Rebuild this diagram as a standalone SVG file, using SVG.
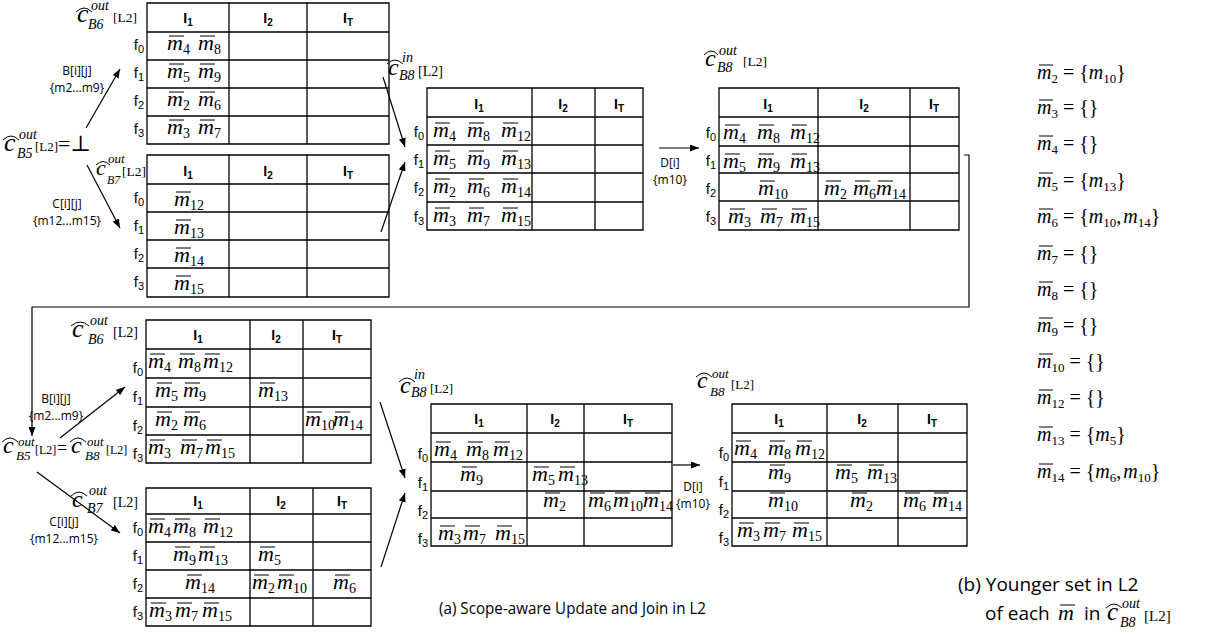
<svg xmlns="http://www.w3.org/2000/svg" width="1229" height="634" viewBox="0 0 1229 634">
<style>
.g{fill:none;stroke:#000;stroke-width:1.3}
.ov{fill:none;stroke:#000;stroke-width:1}
.hat{fill:none;stroke:#000;stroke-width:1}
.m{font-family:"Liberation Serif",serif;font-style:italic;font-size:22px}
.s{font-style:normal;font-size:14px}
.f{font-family:"Liberation Sans",Arial,sans-serif;font-size:15px;text-anchor:end}
.fs{font-size:11px}
.h{font-family:"Liberation Sans",Arial,sans-serif;font-weight:bold;font-size:14px;text-anchor:middle}
.hs{font-size:10px}
.lb{font-family:"Open Sans",sans-serif;font-size:12px;text-anchor:middle}
.cc{font-family:"Liberation Serif","DejaVu Serif",serif}
.ci{font-style:italic}
.cap{font-family:"Open Sans",sans-serif;font-size:16.5px}
.capb{font-family:"Open Sans",sans-serif;font-size:19px}
.cn{fill:none;stroke:#000;stroke-width:1.2}
.eq{font-family:"Liberation Serif",serif;font-size:20px}
.i{font-style:italic}
.es{font-size:13px}
</style>
<defs>
<marker id="ah" markerWidth="9" markerHeight="7" refX="9" refY="3.5" orient="auto" markerUnits="userSpaceOnUse"><path d="M0,0 L9,3.5 L0,7 z" fill="#000"/></marker>
</defs>

<g id="connectors" class="cn">
<path d="M86 128L120 69" marker-end="url(#ah)"/>
<path d="M87 165L120 228" marker-end="url(#ah)"/>
<path d="M383 77L405 147" marker-end="url(#ah)"/>
<path d="M381 232L405 162" marker-end="url(#ah)"/>
<path d="M659 148H699" marker-end="url(#ah)"/>
<path d="M964 155H969V307H32V436" marker-end="url(#ah)"/>
<path d="M60 438L125 387" marker-end="url(#ah)"/>
<path d="M37 472L120 533" marker-end="url(#ah)"/>
<path d="M380 402L405 478" marker-end="url(#ah)"/>
<path d="M381 567L405 493" marker-end="url(#ah)"/>
<path d="M673 465H700" marker-end="url(#ah)"/>
</g>

<g id="edge-labels">
<text class="lb" x="77" y="75">B[i][j]</text>
<text class="lb" x="77" y="92">{m2...m9}</text>
<text class="lb" x="67" y="208">C[i][j]</text>
<text class="lb" x="67" y="225">{m12...m15}</text>
<text class="lb" x="670" y="167">D[i]</text>
<text class="lb" x="670" y="184">{m10}</text>
<text class="lb" x="56" y="403">B[i][j]</text>
<text class="lb" x="56" y="420">{m2...m9}</text>
<text class="lb" x="64" y="526">C[i][j]</text>
<text class="lb" x="64" y="543">{m12...m15}</text>
<text class="lb" x="693" y="491">D[i]</text>
<text class="lb" x="693" y="508">{m10}</text>
</g>

<g id="node-b5-top">
<path class="hat" d="M3 140Q11 132 19 140"/>
<text class="cc"><tspan class="ci" x="4" y="151" font-size="26">c</tspan><tspan class="ci" x="19" y="139" font-size="14">out</tspan><tspan class="ci" x="17" y="158" font-size="14">B5</tspan><tspan x="35" y="151" font-size="13">[L2]</tspan><tspan x="58" y="151" font-size="22">=⊥</tspan></text>
</g>

<g id="table-b6-top">
<path class="hat" d="M76 12Q84 4 92 12"/>
<text class="cc"><tspan class="ci" x="77" y="22" font-size="26">c</tspan><tspan class="ci" x="91" y="10" font-size="14">out</tspan><tspan class="ci" x="88" y="29" font-size="14">B6</tspan><tspan x="113" y="22" font-size="13.5">[L2]</tspan></text>
<path class="g" d="M147 3h242v141h-242zM147 32h242M147 60h242M147 88h242M147 116h242M229 3v141M307 3v141"/>
<text class="h" x="188" y="23">I<tspan class="hs" dy="3">1</tspan></text>
<text class="h" x="268" y="23">I<tspan class="hs" dy="3">2</tspan></text>
<text class="h" x="348" y="23">I<tspan class="hs" dy="3">T</tspan></text>
<text class="f" x="144" y="50">f<tspan class="fs" dy="3">0</tspan></text>
<text class="f" x="144" y="78">f<tspan class="fs" dy="3">1</tspan></text>
<text class="f" x="144" y="106">f<tspan class="fs" dy="3">2</tspan></text>
<text class="f" x="144" y="134">f<tspan class="fs" dy="3">3</tspan></text>
<text class="m"><tspan x="167" y="50">m</tspan><tspan class="s" dy="4">4</tspan><tspan x="198" y="50">m</tspan><tspan class="s" dy="4">8</tspan><tspan x="167" y="78">m</tspan><tspan class="s" dy="4">5</tspan><tspan x="198" y="78">m</tspan><tspan class="s" dy="4">9</tspan><tspan x="167" y="106">m</tspan><tspan class="s" dy="4">2</tspan><tspan x="198" y="106">m</tspan><tspan class="s" dy="4">6</tspan><tspan x="167" y="134">m</tspan><tspan class="s" dy="4">3</tspan><tspan x="198" y="134">m</tspan><tspan class="s" dy="4">7</tspan></text>
<path class="ov" d="M169 36h15M200 36h15M169 64h15M200 64h15M169 92h15M200 92h15M169 120h15M200 120h15"/>
</g>

<g id="table-b7-top">
<path class="hat" d="M96 165Q103 158 110 165"/>
<text class="cc"><tspan class="ci" x="96" y="175" font-size="22">c</tspan><tspan class="ci" x="108" y="163" font-size="13">out</tspan><tspan class="ci" x="107" y="184" font-size="12">B7</tspan><tspan x="122" y="176" font-size="13.5">[L2]</tspan></text>
<path class="g" d="M147 155h242v142h-242zM147 184h242M147 212h242M147 240h242M147 268h242M229 155v142M307 155v142"/>
<text class="h" x="188" y="176">I<tspan class="hs" dy="3">1</tspan></text>
<text class="h" x="268" y="176">I<tspan class="hs" dy="3">2</tspan></text>
<text class="h" x="348" y="176">I<tspan class="hs" dy="3">T</tspan></text>
<text class="f" x="144" y="203">f<tspan class="fs" dy="3">0</tspan></text>
<text class="f" x="144" y="231">f<tspan class="fs" dy="3">1</tspan></text>
<text class="f" x="144" y="259">f<tspan class="fs" dy="3">2</tspan></text>
<text class="f" x="144" y="287">f<tspan class="fs" dy="3">3</tspan></text>
<text class="m"><tspan x="174" y="206">m</tspan><tspan class="s" dy="4">12</tspan><tspan x="174" y="234">m</tspan><tspan class="s" dy="4">13</tspan><tspan x="174" y="262">m</tspan><tspan class="s" dy="4">14</tspan><tspan x="174" y="290">m</tspan><tspan class="s" dy="4">15</tspan></text>
<path class="ov" d="M176 192h15M176 220h15M176 248h15M176 276h15"/>
</g>

<g id="table-b8in-top">
<path class="hat" d="M387 64Q395 56 403 64"/>
<text class="cc"><tspan class="ci" x="388" y="75" font-size="24">c</tspan><tspan class="ci" x="402" y="62" font-size="14">in</tspan><tspan class="ci" x="399" y="80" font-size="14">B8</tspan><tspan x="418" y="76" font-size="14">[L2]</tspan></text>
<path class="g" d="M427 88h216v142h-216zM427 117h216M427 145h216M427 173h216M427 202h216M532 88v142M595 88v142"/>
<text class="h" x="479" y="109">I<tspan class="hs" dy="3">1</tspan></text>
<text class="h" x="563" y="109">I<tspan class="hs" dy="3">2</tspan></text>
<text class="h" x="619" y="109">I<tspan class="hs" dy="3">T</tspan></text>
<text class="f" x="424" y="137">f<tspan class="fs" dy="3">0</tspan></text>
<text class="f" x="424" y="165">f<tspan class="fs" dy="3">1</tspan></text>
<text class="f" x="424" y="193">f<tspan class="fs" dy="3">2</tspan></text>
<text class="f" x="424" y="222">f<tspan class="fs" dy="3">3</tspan></text>
<text class="m"><tspan x="433" y="137">m</tspan><tspan class="s" dy="4">4</tspan><tspan x="467" y="137">m</tspan><tspan class="s" dy="4">8</tspan><tspan x="501" y="137">m</tspan><tspan class="s" dy="4">12</tspan><tspan x="433" y="165">m</tspan><tspan class="s" dy="4">5</tspan><tspan x="467" y="165">m</tspan><tspan class="s" dy="4">9</tspan><tspan x="501" y="165">m</tspan><tspan class="s" dy="4">13</tspan><tspan x="433" y="193">m</tspan><tspan class="s" dy="4">2</tspan><tspan x="467" y="193">m</tspan><tspan class="s" dy="4">6</tspan><tspan x="501" y="193">m</tspan><tspan class="s" dy="4">14</tspan><tspan x="433" y="222">m</tspan><tspan class="s" dy="4">3</tspan><tspan x="467" y="222">m</tspan><tspan class="s" dy="4">7</tspan><tspan x="501" y="222">m</tspan><tspan class="s" dy="4">15</tspan></text>
<path class="ov" d="M435 123h15M469 123h15M503 123h15M435 151h15M469 151h15M503 151h15M435 179h15M469 179h15M503 179h15M435 208h15M469 208h15M503 208h15"/>
</g>

<g id="table-b8out-top">
<path class="hat" d="M704 55Q711 47 718 55"/>
<text class="cc"><tspan class="ci" x="705" y="66" font-size="24">c</tspan><tspan class="ci" x="719" y="55" font-size="14">out</tspan><tspan class="ci" x="717" y="72" font-size="14">B8</tspan><tspan x="743" y="66" font-size="13.5">[L2]</tspan></text>
<path class="g" d="M719 88h240v142h-240zM719 117h240M719 146h240M719 173h240M719 201h240M818 88v142M910 88v142"/>
<text class="h" x="768" y="109">I<tspan class="hs" dy="3">1</tspan></text>
<text class="h" x="864" y="109">I<tspan class="hs" dy="3">2</tspan></text>
<text class="h" x="934" y="109">I<tspan class="hs" dy="3">T</tspan></text>
<text class="f" x="716" y="138">f<tspan class="fs" dy="3">0</tspan></text>
<text class="f" x="716" y="166">f<tspan class="fs" dy="3">1</tspan></text>
<text class="f" x="716" y="194">f<tspan class="fs" dy="3">2</tspan></text>
<text class="f" x="716" y="222">f<tspan class="fs" dy="3">3</tspan></text>
<text class="m"><tspan x="723" y="139">m</tspan><tspan class="s" dy="4">4</tspan><tspan x="757" y="139">m</tspan><tspan class="s" dy="4">8</tspan><tspan x="790" y="139">m</tspan><tspan class="s" dy="4">12</tspan><tspan x="723" y="168">m</tspan><tspan class="s" dy="4">5</tspan><tspan x="757" y="168">m</tspan><tspan class="s" dy="4">9</tspan><tspan x="790" y="168">m</tspan><tspan class="s" dy="4">13</tspan><tspan x="758" y="195">m</tspan><tspan class="s" dy="4">10</tspan><tspan x="824" y="195">m</tspan><tspan class="s" dy="4">2</tspan><tspan x="853" y="195">m</tspan><tspan class="s" dy="4">6</tspan><tspan x="876" y="195">m</tspan><tspan class="s" dy="4">14</tspan><tspan x="728" y="223">m</tspan><tspan class="s" dy="4">3</tspan><tspan x="760" y="223">m</tspan><tspan class="s" dy="4">7</tspan><tspan x="790" y="223">m</tspan><tspan class="s" dy="4">15</tspan></text>
<path class="ov" d="M725 125h15M759 125h15M792 125h15M725 154h15M759 154h15M792 154h15M760 181h15M826 181h15M855 181h15M878 181h15M730 209h15M762 209h15M792 209h15"/>
</g>

<g id="node-b5-bottom">
<path class="hat" d="M2 442Q10 434 18 442M70 442Q78 434 86 442"/>
<text class="cc"><tspan class="ci" x="3" y="453" font-size="24">c</tspan><tspan class="ci" x="18" y="446" font-size="13">out</tspan><tspan class="ci" x="16" y="460" font-size="13">B5</tspan><tspan x="35" y="454" font-size="12">[L2]</tspan><tspan x="57" y="454" font-size="18">=</tspan><tspan class="ci" x="71" y="453" font-size="24">c</tspan><tspan class="ci" x="87" y="446" font-size="13">out</tspan><tspan class="ci" x="85" y="460" font-size="13">B8</tspan><tspan x="106" y="454" font-size="12">[L2]</tspan></text>
</g>

<g id="table-b6-bottom">
<path class="hat" d="M71 326Q80 318 89 326"/>
<text class="cc"><tspan class="ci" x="72" y="337" font-size="26">c</tspan><tspan class="ci" x="90" y="325" font-size="14">out</tspan><tspan class="ci" x="88" y="344" font-size="14">B6</tspan><tspan x="113" y="337" font-size="14">[L2]</tspan></text>
<path class="g" d="M146 320h225v143h-225zM146 349h225M146 378h225M146 407h225M146 435h225M250 320v143M303 320v143"/>
<text class="h" x="198" y="340">I<tspan class="hs" dy="3">1</tspan></text>
<text class="h" x="276" y="340">I<tspan class="hs" dy="3">2</tspan></text>
<text class="h" x="337" y="340">I<tspan class="hs" dy="3">T</tspan></text>
<text class="f" x="143" y="373">f<tspan class="fs" dy="3">0</tspan></text>
<text class="f" x="143" y="402">f<tspan class="fs" dy="3">1</tspan></text>
<text class="f" x="143" y="431">f<tspan class="fs" dy="3">2</tspan></text>
<text class="f" x="143" y="459">f<tspan class="fs" dy="3">3</tspan></text>
<text class="m"><tspan x="148" y="368">m</tspan><tspan class="s" dy="4">4</tspan><tspan x="178" y="368">m</tspan><tspan class="s" dy="4">8</tspan><tspan x="203" y="368">m</tspan><tspan class="s" dy="4">12</tspan><tspan x="155" y="397">m</tspan><tspan class="s" dy="4">5</tspan><tspan x="183" y="397">m</tspan><tspan class="s" dy="4">9</tspan><tspan x="258" y="397">m</tspan><tspan class="s" dy="4">13</tspan><tspan x="155" y="426">m</tspan><tspan class="s" dy="4">2</tspan><tspan x="183" y="426">m</tspan><tspan class="s" dy="4">6</tspan><tspan x="305" y="426">m</tspan><tspan class="s" dy="4">10</tspan><tspan x="333" y="426">m</tspan><tspan class="s" dy="4">14</tspan><tspan x="148" y="454">m</tspan><tspan class="s" dy="4">3</tspan><tspan x="180" y="454">m</tspan><tspan class="s" dy="4">7</tspan><tspan x="205" y="454">m</tspan><tspan class="s" dy="4">15</tspan></text>
<path class="ov" d="M150 354h15M180 354h15M205 354h15M157 383h15M185 383h15M260 383h15M157 412h15M185 412h15M307 412h15M335 412h15M150 440h15M182 440h15M207 440h15"/>
</g>

<g id="table-b7-bottom">
<path class="hat" d="M71 496Q79 488 87 496"/>
<text class="cc"><tspan class="ci" x="72" y="507" font-size="24">c</tspan><tspan class="ci" x="89" y="495" font-size="14">out</tspan><tspan class="ci" x="87" y="513" font-size="14">B7</tspan><tspan x="113" y="507" font-size="14">[L2]</tspan></text>
<path class="g" d="M146 488h225v138h-225zM146 514h225M146 542h225M146 570h225M146 598h225M250 488v138M313 488v138"/>
<text class="h" x="198" y="506">I<tspan class="hs" dy="3">1</tspan></text>
<text class="h" x="281" y="506">I<tspan class="hs" dy="3">2</tspan></text>
<text class="h" x="342" y="506">I<tspan class="hs" dy="3">T</tspan></text>
<text class="f" x="143" y="533">f<tspan class="fs" dy="3">0</tspan></text>
<text class="f" x="143" y="561">f<tspan class="fs" dy="3">1</tspan></text>
<text class="f" x="143" y="589">f<tspan class="fs" dy="3">2</tspan></text>
<text class="f" x="143" y="617">f<tspan class="fs" dy="3">3</tspan></text>
<text class="m"><tspan x="148" y="533">m</tspan><tspan class="s" dy="4">4</tspan><tspan x="173" y="533">m</tspan><tspan class="s" dy="4">8</tspan><tspan x="203" y="533">m</tspan><tspan class="s" dy="4">12</tspan><tspan x="173" y="561">m</tspan><tspan class="s" dy="4">9</tspan><tspan x="198" y="561">m</tspan><tspan class="s" dy="4">13</tspan><tspan x="258" y="561">m</tspan><tspan class="s" dy="4">5</tspan><tspan x="185" y="589">m</tspan><tspan class="s" dy="4">14</tspan><tspan x="252" y="589">m</tspan><tspan class="s" dy="4">2</tspan><tspan x="277" y="589">m</tspan><tspan class="s" dy="4">10</tspan><tspan x="333" y="589">m</tspan><tspan class="s" dy="4">6</tspan><tspan x="149" y="617">m</tspan><tspan class="s" dy="4">3</tspan><tspan x="175" y="617">m</tspan><tspan class="s" dy="4">7</tspan><tspan x="202" y="617">m</tspan><tspan class="s" dy="4">15</tspan></text>
<path class="ov" d="M150 519h15M175 519h15M205 519h15M175 547h15M200 547h15M260 547h15M187 575h15M254 575h15M279 575h15M335 575h15M151 603h15M177 603h15M204 603h15"/>
</g>

<g id="table-b8in-bottom">
<path class="hat" d="M399 382Q407 374 415 382"/>
<text class="cc"><tspan class="ci" x="400" y="393" font-size="24">c</tspan><tspan class="ci" x="414" y="379" font-size="14">in</tspan><tspan class="ci" x="411" y="397" font-size="14">B8</tspan><tspan x="430" y="393" font-size="13">[L2]</tspan></text>
<path class="g" d="M431 404h241v142h-241zM431 433h241M431 462h241M431 491h241M431 518h241M527 404v142M584 404v142"/>
<text class="h" x="479" y="424">I<tspan class="hs" dy="3">1</tspan></text>
<text class="h" x="555" y="424">I<tspan class="hs" dy="3">2</tspan></text>
<text class="h" x="628" y="424">I<tspan class="hs" dy="3">T</tspan></text>
<text class="f" x="428" y="459">f<tspan class="fs" dy="3">0</tspan></text>
<text class="f" x="428" y="488">f<tspan class="fs" dy="3">1</tspan></text>
<text class="f" x="428" y="516">f<tspan class="fs" dy="3">2</tspan></text>
<text class="f" x="428" y="544">f<tspan class="fs" dy="3">3</tspan></text>
<text class="m"><tspan x="434" y="456">m</tspan><tspan class="s" dy="4">4</tspan><tspan x="466" y="456">m</tspan><tspan class="s" dy="4">8</tspan><tspan x="493" y="456">m</tspan><tspan class="s" dy="4">12</tspan><tspan x="460" y="481">m</tspan><tspan class="s" dy="4">9</tspan><tspan x="532" y="481">m</tspan><tspan class="s" dy="4">5</tspan><tspan x="558" y="481">m</tspan><tspan class="s" dy="4">13</tspan><tspan x="543" y="507">m</tspan><tspan class="s" dy="4">2</tspan><tspan x="588" y="507">m</tspan><tspan class="s" dy="4">6</tspan><tspan x="613" y="507">m</tspan><tspan class="s" dy="4">10</tspan><tspan x="643" y="507">m</tspan><tspan class="s" dy="4">14</tspan><tspan x="438" y="540">m</tspan><tspan class="s" dy="4">3</tspan><tspan x="463" y="540">m</tspan><tspan class="s" dy="4">7</tspan><tspan x="495" y="540">m</tspan><tspan class="s" dy="4">15</tspan></text>
<path class="ov" d="M436 442h15M468 442h15M495 442h15M462 467h15M534 467h15M560 467h15M545 493h15M590 493h15M615 493h15M645 493h15M440 526h15M465 526h15M497 526h15"/>
</g>

<g id="table-b8out-bottom">
<path class="hat" d="M696 377Q704 369 712 377"/>
<text class="cc"><tspan class="ci" x="697" y="388" font-size="24">c</tspan><tspan class="ci" x="712" y="378" font-size="13">out</tspan><tspan class="ci" x="710" y="396" font-size="13">B8</tspan><tspan x="731" y="389" font-size="13">[L2]</tspan></text>
<path class="g" d="M732 404h235v142h-235zM732 433h235M732 462h235M732 491h235M732 518h235M827 404v142M898 404v142"/>
<text class="h" x="779" y="424">I<tspan class="hs" dy="3">1</tspan></text>
<text class="h" x="862" y="424">I<tspan class="hs" dy="3">2</tspan></text>
<text class="h" x="932" y="424">I<tspan class="hs" dy="3">T</tspan></text>
<text class="f" x="729" y="458">f<tspan class="fs" dy="3">0</tspan></text>
<text class="f" x="729" y="487">f<tspan class="fs" dy="3">1</tspan></text>
<text class="f" x="729" y="515">f<tspan class="fs" dy="3">2</tspan></text>
<text class="f" x="729" y="543">f<tspan class="fs" dy="3">3</tspan></text>
<text class="m"><tspan x="734" y="455">m</tspan><tspan class="s" dy="4">4</tspan><tspan x="768" y="455">m</tspan><tspan class="s" dy="4">8</tspan><tspan x="795" y="455">m</tspan><tspan class="s" dy="4">12</tspan><tspan x="768" y="479">m</tspan><tspan class="s" dy="4">9</tspan><tspan x="835" y="479">m</tspan><tspan class="s" dy="4">5</tspan><tspan x="867" y="479">m</tspan><tspan class="s" dy="4">13</tspan><tspan x="768" y="507">m</tspan><tspan class="s" dy="4">10</tspan><tspan x="850" y="507">m</tspan><tspan class="s" dy="4">2</tspan><tspan x="903" y="507">m</tspan><tspan class="s" dy="4">6</tspan><tspan x="932" y="507">m</tspan><tspan class="s" dy="4">14</tspan><tspan x="737" y="537">m</tspan><tspan class="s" dy="4">3</tspan><tspan x="763" y="537">m</tspan><tspan class="s" dy="4">7</tspan><tspan x="792" y="537">m</tspan><tspan class="s" dy="4">15</tspan></text>
<path class="ov" d="M736 441h15M770 441h15M797 441h15M770 465h15M837 465h15M869 465h15M770 493h15M852 493h15M905 493h15M934 493h15M739 523h15M765 523h15M794 523h15"/>
</g>

<g id="younger-sets">
<text class="eq" x="1037" y="79"><tspan class="i">m</tspan><tspan class="es" dy="4">2</tspan><tspan dy="-4"> = {</tspan><tspan class="i">m</tspan><tspan class="es" dy="4">10</tspan><tspan dy="-4">}</tspan></text>
<text class="eq" x="1037" y="114"><tspan class="i">m</tspan><tspan class="es" dy="4">3</tspan><tspan dy="-4"> = {}</tspan></text>
<text class="eq" x="1037" y="150"><tspan class="i">m</tspan><tspan class="es" dy="4">4</tspan><tspan dy="-4"> = {}</tspan></text>
<text class="eq" x="1037" y="187"><tspan class="i">m</tspan><tspan class="es" dy="4">5</tspan><tspan dy="-4"> = {</tspan><tspan class="i">m</tspan><tspan class="es" dy="4">13</tspan><tspan dy="-4">}</tspan></text>
<text class="eq" x="1037" y="223"><tspan class="i">m</tspan><tspan class="es" dy="4">6</tspan><tspan dy="-4"> = {</tspan><tspan class="i">m</tspan><tspan class="es" dy="4">10</tspan><tspan dy="-4">,</tspan><tspan class="i" dx="2">m</tspan><tspan class="es" dy="4">14</tspan><tspan dy="-4">}</tspan></text>
<text class="eq" x="1037" y="260"><tspan class="i">m</tspan><tspan class="es" dy="4">7</tspan><tspan dy="-4"> = {}</tspan></text>
<text class="eq" x="1037" y="296"><tspan class="i">m</tspan><tspan class="es" dy="4">8</tspan><tspan dy="-4"> = {}</tspan></text>
<text class="eq" x="1037" y="332"><tspan class="i">m</tspan><tspan class="es" dy="4">9</tspan><tspan dy="-4"> = {}</tspan></text>
<text class="eq" x="1037" y="368"><tspan class="i">m</tspan><tspan class="es" dy="4">10</tspan><tspan dy="-4"> = {}</tspan></text>
<text class="eq" x="1037" y="404"><tspan class="i">m</tspan><tspan class="es" dy="4">12</tspan><tspan dy="-4"> = {}</tspan></text>
<text class="eq" x="1037" y="441"><tspan class="i">m</tspan><tspan class="es" dy="4">13</tspan><tspan dy="-4"> = {</tspan><tspan class="i">m</tspan><tspan class="es" dy="4">5</tspan><tspan dy="-4">}</tspan></text>
<text class="eq" x="1037" y="478"><tspan class="i">m</tspan><tspan class="es" dy="4">14</tspan><tspan dy="-4"> = {</tspan><tspan class="i">m</tspan><tspan class="es" dy="4">6</tspan><tspan dy="-4">,</tspan><tspan class="i" dx="2">m</tspan><tspan class="es" dy="4">10</tspan><tspan dy="-4">}</tspan></text>
<path class="ov" d="M1039 65h14M1039 100h14M1039 136h14M1039 173h14M1039 209h14M1039 246h14M1039 282h14M1039 318h14M1039 354h14M1039 390h14M1039 427h14M1039 464h14"/>
</g>

<g id="captions">
<text class="cap" x="439" y="614" textLength="267" lengthAdjust="spacingAndGlyphs">(a) Scope-aware Update and Join in L2</text>
<text class="capb" x="958" y="591">(b) Younger set in L2</text>
<text class="capb" x="985" y="620">of each</text>
<text class="m" x="1058" y="620">m</text>
<path class="ov" d="M1060 605h15"/>
<text class="capb" x="1084" y="620">in</text>
<path class="hat" d="M1106 608Q1114 600 1122 608"/>
<text class="cc"><tspan class="ci" x="1107" y="620" font-size="25">c</tspan><tspan class="ci" x="1122" y="608" font-size="14">out</tspan><tspan class="ci" x="1120" y="627" font-size="14">B8</tspan><tspan x="1144" y="621" font-size="15">[L2]</tspan></text>
</g>
</svg>
